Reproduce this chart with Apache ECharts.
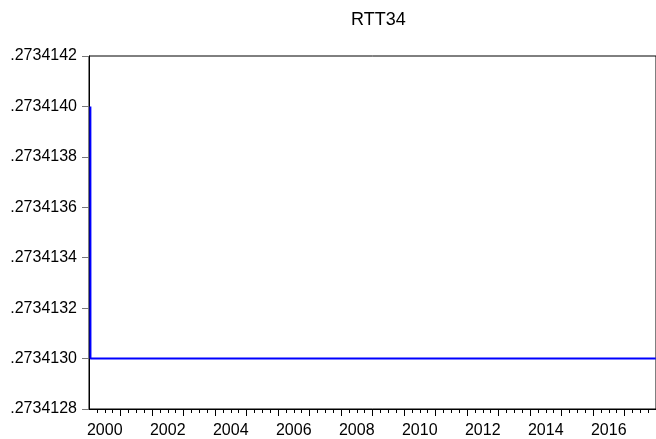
<!DOCTYPE html>
<html>
<head>
<meta charset="utf-8">
<script src="https://cdn.jsdelivr.net/npm/echarts@6/dist/echarts.min.js"></script>
<style>
html,body{margin:0;padding:0;background:#fff;}
#chart{width:656px;height:439px;}
</style>
</head>
<body>
<div id="chart"></div>
<script>
// ---- data ----
const chartTitle = 'RTT34';
const obsDates = ['2000-01-17', '2000-01-18', '2017-12-29'];
const rtt34 = [0.2734140, 0.2734130, 0.2734130];
const yearLabels = ['2000', '2002', '2004', '2006', '2008', '2010', '2012', '2014', '2016'];
const yMin = 0.2734128, yMax = 0.2734142, yStep = 0.0000002;
const xStartYear = 2000, xEndYear = 2018;

// ---- build ----
function dateToYear(s) {
  const [y, m, d] = s.split('-').map(Number);
  const t = Date.UTC(y, m - 1, d);
  const t0 = Date.UTC(y, 0, 1), t1 = Date.UTC(y + 1, 0, 1);
  return y + (t - t0) / (t1 - t0);
}
const seriesData = obsDates.map((p, i) => [dateToYear(p), rtt34[i]]);
const majorTicks = [];
for (let y = xStartYear + 1; y < xEndYear; y++) majorTicks.push(y);
const minorTicks = [];
for (let q = xStartYear * 4 + 1; q < xEndYear * 4; q++) minorTicks.push(q / 4);
const labelPos = yearLabels.map(s => Number(s) + 0.5);

const font = 'Liberation Sans, Arial, Helvetica, sans-serif';
const chart = echarts.init(document.getElementById('chart'), null, {renderer: 'canvas'});
chart.setOption({
  animation: false,
  backgroundColor: '#fff',
  title: {
    text: chartTitle,
    left: 346,
    top: 6,
    textStyle: {fontFamily: font, fontSize: 18, fontWeight: 'normal', color: '#000'}
  },
  grid: {left: 89, right: 0, top: 56, bottom: 29, show: true, borderColor: '#000', borderWidth: 1, backgroundColor: 'transparent'},
  xAxis: [
    {
      type: 'value', min: xStartYear, max: xEndYear, position: 'bottom',
      axisLine: {show: true, lineStyle: {color: '#000', width: 1}},
      axisTick: {show: true, inside: false, length: 7, customValues: majorTicks, lineStyle: {color: '#000'}},
      axisLabel: {
        show: true, customValues: labelPos, margin: 14,
        fontFamily: font, fontSize: 16, color: '#000',
        formatter: v => String(Math.floor(v))
      },
      splitLine: {show: false}
    },
    {
      type: 'value', min: xStartYear, max: xEndYear, position: 'bottom',
      axisLine: {show: false},
      axisTick: {show: true, inside: false, length: 4, customValues: minorTicks, lineStyle: {color: '#000'}},
      axisLabel: {show: false},
      splitLine: {show: false}
    }
  ],
  yAxis: {
    type: 'value', min: yMin, max: yMax, interval: yStep,
    axisLine: {show: true, lineStyle: {color: '#000', width: 1}},
    axisTick: {show: true, inside: false, length: 7, lineStyle: {color: '#777'}},
    axisLabel: {
      margin: 12, fontFamily: font, fontSize: 16, color: '#000',
      formatter: v => v.toFixed(7).replace(/^0/, '')
    },
    splitLine: {show: false}
  },
  series: [{
    type: 'line',
    data: seriesData,
    showSymbol: false,
    symbol: 'none',
    lineStyle: {color: '#0000ff', width: 2},
    xAxisIndex: 0
  }]
});
</script>
</body>
</html>
